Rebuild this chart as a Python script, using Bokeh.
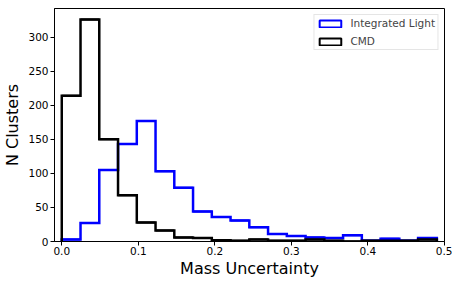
import numpy as np
from bokeh.plotting import figure
from bokeh.models import (Range1d, FixedTicker, PrintfTickFormatter, Legend,
                          LegendItem, ColumnDataSource)
from bokeh.embed import file_html
from bokeh.resources import INLINE

# ---- data ----
bin_width = 0.0245
n_bins = 20
integrated_light = [3, 27, 105, 143, 177, 103, 79, 44, 36, 31, 21, 11, 8, 6, 5, 9, 1, 4, 1, 5]
cmd = [214, 326, 150, 68, 28, 16, 6, 5, 2, 1, 3, 1, 1, 3, 1, 0, 1, 1, 1, 3]
series_labels = ["Integrated Light", "CMD"]
x_ticks = [0.0, 0.1, 0.2, 0.3, 0.4, 0.5]
y_ticks = [0, 50, 100, 150, 200, 250, 300]

edges = [i * bin_width for i in range(n_bins + 1)]


def step_xy(edges, counts):
    xs = [edges[0]]
    ys = [0]
    for i, c in enumerate(counts):
        xs += [edges[i], edges[i + 1]]
        ys += [c, c]
    xs.append(edges[-1])
    ys.append(0)
    return xs, ys


FONT = "DejaVu Sans"

p = figure(frame_width=390, frame_height=233, output_backend="svg",
           toolbar_location=None,
           x_range=Range1d(-0.0095, 0.5), y_range=Range1d(0, 342),
           min_border_left=52, min_border_right=8, min_border_top=8,
           min_border_bottom=30)

p.xgrid.visible = False
p.ygrid.visible = False
p.outline_line_color = "black"
p.outline_line_width = 1
p.background_fill_color = "white"
p.border_fill_color = "white"

# zero-height bars along each bin top: hidden under the step outline,
# they only provide the outlined-patch legend swatches
src_il = ColumnDataSource(dict(left=edges[:-1], right=edges[1:],
                               top=integrated_light, bottom=integrated_light))
src_cmd = ColumnDataSource(dict(left=edges[:-1], right=edges[1:],
                                top=cmd, bottom=cmd))
q_il = p.quad(left="left", right="right", top="top", bottom="bottom",
              source=src_il, fill_color="white",
              line_color="#0000ff", line_width=2)
q_cmd = p.quad(left="left", right="right", top="top", bottom="bottom",
               source=src_cmd, fill_color="white",
               line_color="black", line_width=2)

xb, yb = step_xy(edges, integrated_light)
xk, yk = step_xy(edges, cmd)
p.line(xb, yb, line_color="#0000ff", line_width=2.5, line_join="miter")
p.line(xk, yk, line_color="black", line_width=2.5, line_join="miter")

legend = Legend(items=[LegendItem(label=series_labels[0], renderers=[q_il]),
                       LegendItem(label=series_labels[1], renderers=[q_cmd])],
                location="top_right")
legend.label_text_font = FONT
legend.label_text_font_size = "10.5px"
legend.glyph_width = 27
legend.glyph_height = 9
legend.label_height = 11
legend.label_standoff = 7
legend.spacing = 6
legend.padding = 2
legend.margin = 6
legend.border_line_color = "#cccccc"
legend.border_line_width = 1
legend.background_fill_alpha = 0.8
p.add_layout(legend)

for ax in (p.xaxis[0], p.yaxis[0]):
    ax.major_label_text_font = FONT
    ax.major_label_text_font_size = "10.5px"
    ax.major_label_text_color = "black"
    ax.axis_label_text_font = FONT
    ax.axis_label_text_font_size = "16px"
    ax.axis_label_text_font_style = "normal"
    ax.axis_label_text_color = "black"
    ax.major_tick_out = 4
    ax.major_tick_in = 0
    ax.minor_tick_out = 0
    ax.minor_tick_in = 0
    ax.major_tick_line_color = "black"
    ax.axis_line_color = "black"
    ax.major_label_standoff = 2

p.xaxis.axis_label = "Mass Uncertainty"
p.yaxis.axis_label = "N Clusters"
p.xaxis.ticker = FixedTicker(ticks=x_ticks)
p.yaxis.ticker = FixedTicker(ticks=y_ticks)
p.xaxis.formatter = PrintfTickFormatter(format="%.1f")
p.xaxis.major_label_standoff = 1
p.xaxis.axis_label_standoff = 1
p.yaxis.axis_label_standoff = 3

open("out.html", "w").write(file_html(p, INLINE))
